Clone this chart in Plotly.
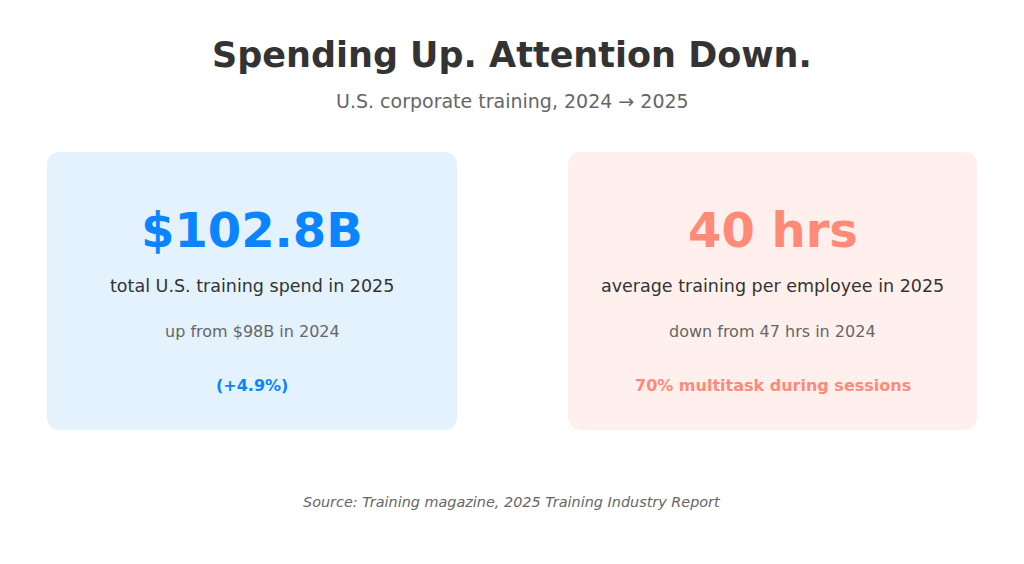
import plotly.graph_objects as go

W, H = 1024, 564
PAD = 8  # default page body margin

title = "Spending Up. Attention Down."
subtitle = "U.S. corporate training, 2024 → 2025"
source = "Source: Training magazine, 2025 Training Industry Report"

kpi_values = ["$102.8B", "40 hrs"]
kpi_labels = ["total U.S. training spend in 2025", "average training per employee in 2025"]
kpi_prior = ["up from $98B in 2024", "down from 47 hrs in 2024"]
kpi_notes = ["(+4.9%)", "70% multitask during sessions"]
accent_colors = ["#0A84FF", "#FF8A78"]
card_colors = ["#E3F2FD", "#FFF0ED"]

FONT = "DejaVu Sans"
card_x = [(47, 457), (568, 977)]
card_y = (152, 430)
r = 14


def rounded(x0, y0, x1, y1, r):
    return (f"M{x0+r},{y0} L{x1-r},{y0} Q{x1},{y0} {x1},{y0+r} L{x1},{y1-r} "
            f"Q{x1},{y1} {x1-r},{y1} L{x0+r},{y1} Q{x0},{y1} {x0},{y1-r} "
            f"L{x0},{y0+r} Q{x0},{y0} {x0+r},{y0} Z")


fig = go.Figure()
shapes = []
annotations = []


def txt(x, y, s, size, color, bold=False, italic=False):
    annotations.append(dict(
        x=x, y=y, xref="x", yref="y", text=s, showarrow=False,
        xanchor="center", yanchor="middle",
        font=dict(family=FONT, size=size, color=color,
                  weight="bold" if bold else "normal",
                  style="italic" if italic else "normal")))


txt(W / 2, 55, title, 35, "#333333", bold=True)
txt(W / 2, 101, subtitle, 19, "#666666")

for i in range(2):
    x0, x1 = card_x[i]
    shapes.append(dict(type="path", path=rounded(x0, card_y[0], x1, card_y[1], r),
                       xref="x", yref="y", fillcolor=card_colors[i],
                       line=dict(width=0), layer="below"))
    cx = (x0 + x1) / 2
    txt(cx, 230, kpi_values[i], 48, accent_colors[i], bold=True)
    txt(cx, 286, kpi_labels[i], 17.5, "#333333")
    txt(cx, 331, kpi_prior[i], 16, "#666666")
    txt(cx, 385, kpi_notes[i], 16, accent_colors[i], bold=True)

txt(W / 2, 502, source, 14.4, "#666666", italic=True)

fig.update_layout(
    width=W - 2 * PAD, height=H - 2 * PAD, margin=dict(l=0, r=0, t=0, b=0),
    paper_bgcolor="white", plot_bgcolor="white",
    xaxis=dict(range=[PAD, W - PAD], visible=False, fixedrange=True),
    yaxis=dict(range=[H - PAD, PAD], visible=False, fixedrange=True),
    shapes=shapes, annotations=annotations, showlegend=False,
)
fig.write_html("out.html")
